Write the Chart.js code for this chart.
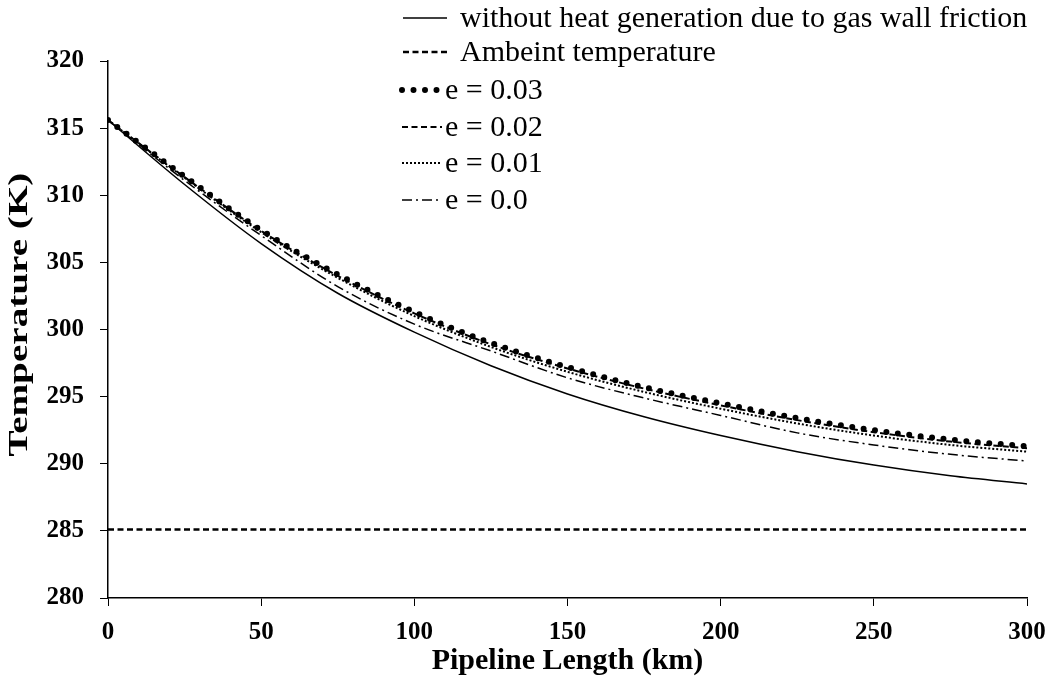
<!DOCTYPE html>
<html>
<head>
<meta charset="utf-8">
<script src="https://cdn.jsdelivr.net/npm/chart.js@4"></script>
<style>
  body { margin: 0; background: #fff; }
  #wrap { width: 1047px; height: 680px; }
</style>
</head>
<body>
<div id="wrap"><canvas id="tempChart"></canvas></div>
<script>
const distance = [0, 25, 50, 75, 100, 125, 150, 175, 200, 225, 250, 275, 300];
const noFriction = [315.6, 310.8, 306.4, 302.7, 299.8, 297.3, 295.2, 293.5, 292.1, 290.9, 289.9, 289.1, 288.5];
const ambient = [285.1, 285.1, 285.1, 285.1, 285.1, 285.1, 285.1, 285.1, 285.1, 285.1, 285.1, 285.1, 285.1];
const e03 = [315.6, 311.4, 307.4, 304.1, 301.3, 299.0, 297.2, 295.7, 294.5, 293.4, 292.5, 291.8, 291.3];
const e02 = [315.6, 311.35, 307.35, 304.0, 301.2, 298.9, 297.1, 295.6, 294.35, 293.25, 292.35, 291.65, 291.15];
const e01 = [315.6, 311.3, 307.25, 303.85, 301.0, 298.7, 296.85, 295.35, 294.1, 293.0, 292.1, 291.4, 290.9];
const e00 = [315.6, 311.1, 307.0, 303.2, 300.4, 298.4, 296.4, 294.9, 293.6, 292.3, 291.4, 290.7, 290.2];
const legendNames = ['without heat generation due to gas wall friction', 'Ambeint temperature', 'e = 0.03', 'e = 0.02', 'e = 0.01', 'e = 0.0'];
const yTitle = 'Temperature (K)';

const serif = '"Liberation Serif", "Times New Roman", serif';

function pts(values) {
    return values.map((v, i) => ({ x: distance[i], y: v }));
}

function line(label, values, width, dash, cap) {
    return {
        label: label,
        data: pts(values),
        borderColor: '#000',
        borderWidth: width,
        borderDash: dash,
        borderCapStyle: cap || 'butt',
        pointRadius: 0,
        fill: false,
        cubicInterpolationMode: 'monotone'
    };
}

// legend drawn by hand so the dot / dash samples look like the original
const handLegend = {
    id: 'handLegend',
    afterDraw(chart) {
        const ctx = chart.ctx;
        const rows = [18, 52, 90, 127, 163, 200];
        const order = [0, 1, 5, 4, 3, 2];
        ctx.save();
        ctx.font = '30px ' + serif;
        ctx.fillStyle = '#000';
        ctx.textBaseline = 'middle';
        rows.forEach((y, i) => {
            const ds = chart.data.datasets[order[i]];
            ctx.beginPath();
            ctx.strokeStyle = '#000';
            ctx.lineWidth = ds.borderWidth;
            ctx.setLineDash(ds.borderDash);
            ctx.lineCap = ds.borderCapStyle;
            ctx.moveTo(i < 2 ? 403 : 402, y);
            ctx.lineTo(i < 2 ? 447 : 442, y);
            ctx.stroke();
            ctx.setLineDash([]);
            ctx.fillText(legendNames[i], i < 2 ? 460 : 445, y + 1);
        });

        // y title, stretched along its length like the original
        const area = chart.chartArea;
        ctx.translate(20, (area.top + area.bottom) / 2 - 15);
        ctx.rotate(-Math.PI / 2);
        ctx.scale(1.45, 1);
        ctx.font = 'bold 27px ' + serif;
        ctx.textAlign = 'center';
        ctx.fillText(yTitle, 0, 0);
        ctx.restore();
    }
};

new Chart(document.getElementById('tempChart'), {
    type: 'line',
    data: {
        datasets: [
            line(legendNames[0], noFriction, 1.5, []),
            line(legendNames[1], ambient, 2.5, [6, 3.5]),
            line(legendNames[5], e00, 1.5, [10, 4, 2, 4]),
            line(legendNames[4], e01, 2, [2, 2]),
            line(legendNames[3], e02, 2, [6, 3.5]),
            line(legendNames[2], e03, 6, [0, 11.5], 'round')
        ]
    },
    options: {
        responsive: true,
        maintainAspectRatio: false,
        animation: false,
        layout: { padding: { top: 61, right: 20, left: 0, bottom: 0 } },
        plugins: { legend: { display: false }, tooltip: { enabled: false } },
        scales: {
            x: {
                type: 'linear',
                min: 0,
                max: 300,
                ticks: { stepSize: 50, color: '#000', padding: 12, font: { family: serif, size: 25, weight: 'bold' } },
                grid: { drawOnChartArea: false, color: '#000', tickLength: 8 },
                border: { color: '#000', width: 1.5 },
                title: { display: true, text: 'Pipeline Length (km)', color: '#000', padding: { top: 0, bottom: 1 }, font: { family: serif, size: 30, weight: 'bold' } },
                afterFit(scale) {
                    scale.height = 82;
                    scale.paddingRight = 0;
                    scale.paddingLeft = 0;
                }
            },
            y: {
                min: 280,
                max: 320,
                ticks: { stepSize: 5, color: '#000', padding: 16, font: { family: serif, size: 25, weight: 'bold' } },
                grid: { drawOnChartArea: false, color: '#000', tickLength: 8 },
                border: { color: '#000', width: 1.5 },
                afterFit(scale) { scale.width = 108; }
            }
        }
    },
    plugins: [handLegend]
});
</script>
</body>
</html>
